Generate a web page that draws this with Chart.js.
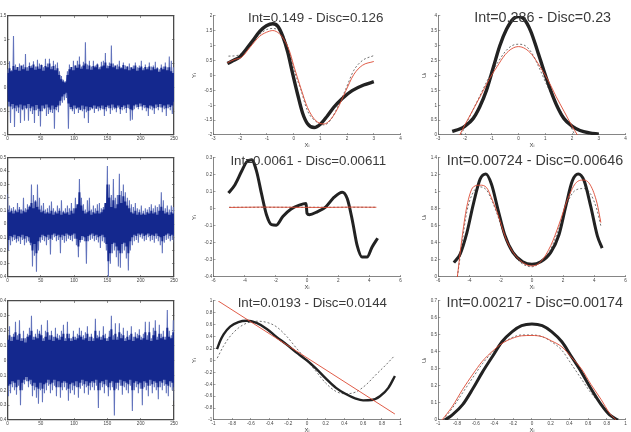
<!DOCTYPE html>
<html>
<head>
<meta charset="utf-8">
<title>Kernel fits</title>
<script src="https://cdn.jsdelivr.net/npm/chart.js@4"></script>
<style>
  html, body { margin: 0; padding: 0; background: #fff; }
  body { position: relative; width: 631px; height: 432px; overflow: hidden; font-family: "Liberation Sans", Arial, sans-serif; }
  canvas { position: absolute; }
  .panelTitle { position: absolute; transform: translate(-50%, -50%); white-space: nowrap; color: #3a3a3a; }
</style>
</head>
<body>
<script>
// Residual traces, left column: outer spikes and dense core, one pair of values every 3 samples
const noiseTicksX = [0, 50, 100, 150, 200, 250];

const spikeUpA = [.38,.55,.36,1.08,.48,.42,.5,.4,.48,.7,.42,.52,.46,.55,.44,.58,.5,.48,.42,.6,.5,.6,.44,.56,.48,.52,.34,.24,.16,.13,.34,.48,.42,.56,.46,.56,.65,.44,.54,.95,.48,.56,.44,.56,.46,.5,.42,.54,.56,.72,.46,.52,.88,.5,.44,.48,.56,.42,.52,.46,.44,.5,.4,.46,.52,.42,.46,.56,.4,.48,.42,.52,.44,.46,.54,.42,.38,.48,.44,.52,.42,.65,.56,.42];
const spikeDownA = [-.4,-.75,-.46,-.83,-.5,-.54,-.75,-.48,-.7,-.46,-.7,-.5,-.56,-.75,-.48,-.6,-.82,-.5,-.46,-.6,-.56,-.52,-.54,-.87,-.48,-.52,-.38,-.32,-.27,-.22,-.87,-.46,-.5,-.56,-.46,-.54,-.48,-.5,-.65,-.52,-.75,-.48,-.46,-.54,-.44,-.5,-.48,-.46,-.6,-.5,-.44,-.56,-.48,-.46,-.52,-.42,-.56,-.48,-.46,-.54,-.44,-.7,-.68,-.46,-.42,-.46,-.4,-.48,-.44,-.5,-.6,-.46,-.48,-.56,-.44,-.48,-.42,-.52,-.46,-.6,-.44,-.48,-.56,-.44];
const coreUpA = [
  .3,.4,.34,.45,.37,.43,.35,.46,.38,.42,.35,.45,.41,.48,.37,.44,.39,.47,.35,.45,.42,
  .5,.38,.45,.36,.4,.26,.17,.12,.1,.26,.38,.43,.36,.46,.41,.48,.39,.46,.5,.38,.46,
  .37,.45,.42,.48,.38,.44,.46,.52,.4,.45,.5,.42,.46,.38,.44,.4,.47,.38,.44,.36,.42,
  .39,.46,.35,.41,.44,.36,.43,.38,.44,.36,.42,.38,.4,.33,.41,.38,.44,.36,.42,.34,.3];
const coreDownA = [
  -.3,-.4,-.35,-.44,-.38,-.42,-.36,-.46,-.38,-.43,-.35,-.44,-.4,-.48,-.37,-.45,-.5,-.38,-.44,-.36,-.42,
  -.47,-.38,-.46,-.41,-.38,-.28,-.19,-.14,-.11,-.34,-.41,-.46,-.38,-.44,-.42,-.47,-.38,-.46,-.4,-.49,-.41,
  -.44,-.38,-.45,-.4,-.44,-.38,-.46,-.41,-.38,-.44,-.36,-.42,-.44,-.38,-.46,-.41,-.38,-.43,-.36,-.46,-.48,
  -.38,-.36,-.41,-.34,-.4,-.37,-.42,-.44,-.38,-.4,-.44,-.36,-.41,-.35,-.42,-.38,-.44,-.36,-.41,-.38,-.3];

const spikeUpB = [.23,.14,.12,.13,.11,.16,.13,.11,.2,.12,.15,.14,.3,.22,.18,.3,.2,.14,.16,.11,.12,.14,.17,.12,.1,.14,.12,.18,.1,.12,.14,.12,.16,.12,.2,.14,.34,.2,.15,.11,.18,.2,.11,.14,.12,.15,.16,.12,.13,.14,.44,.3,.22,.34,.2,.22,.38,.25,.3,.24,.2,.18,.15,.13,.16,.12,.11,.14,.1,.12,.11,.13,.15,.12,.14,.13,.15,.24,.18,.12,.14,.11,.14,.13];
const spikeDownB = [-.2,-.16,-.13,-.12,-.14,-.13,-.15,-.12,-.16,-.14,-.13,-.16,-.32,-.24,-.36,-.2,-.14,-.12,-.13,-.16,-.12,-.23,-.12,-.1,-.13,-.12,-.22,-.12,-.14,-.13,-.11,-.12,-.13,-.11,-.16,-.25,-.14,-.12,-.13,-.3,-.13,-.12,-.11,-.13,-.12,-.14,-.18,-.13,-.14,-.2,-.4,-.3,-.22,-.2,-.25,-.32,-.33,-.22,-.2,-.26,-.35,-.2,-.16,-.13,-.12,-.14,-.1,-.11,-.13,-.12,-.1,-.13,-.12,-.14,-.11,-.13,-.16,-.22,-.14,-.12,-.11,-.13,-.12,-.14];
const coreUpB = [
  .11,.09,.1,.08,.1,.09,.11,.08,.1,.09,.11,.13,.16,.12,.17,.13,.11,.09,.1,.08,.09,
  .08,.1,.07,.09,.08,.1,.07,.09,.08,.09,.07,.1,.08,.12,.15,.24,.14,.1,.08,.09,.1,
  .07,.09,.08,.1,.08,.09,.11,.16,.3,.2,.13,.18,.12,.15,.22,.16,.21,.17,.14,.12,.09,
  .08,.1,.07,.09,.07,.08,.07,.09,.08,.1,.08,.09,.07,.1,.13,.1,.08,.09,.07,.09,.08];
const coreDownB = [
  -.12,-.09,-.1,-.08,-.11,-.09,-.1,-.08,-.11,-.09,-.1,-.14,-.2,-.15,-.22,-.13,-.1,-.08,-.09,-.1,-.08,
  -.11,-.08,-.07,-.09,-.08,-.1,-.08,-.09,-.07,-.08,-.09,-.08,-.07,-.11,-.17,-.12,-.09,-.1,-.13,-.09,-.08,
  -.07,-.09,-.08,-.1,-.09,-.08,-.1,-.15,-.28,-.22,-.15,-.14,-.17,-.2,-.22,-.15,-.14,-.17,-.22,-.13,-.1,
  -.08,-.09,-.07,-.08,-.07,-.09,-.08,-.07,-.09,-.08,-.09,-.07,-.09,-.1,-.13,-.09,-.08,-.07,-.09,-.08,-.09];

const spikeUpC = [.14,.23,.16,.18,.26,.17,.27,.15,.2,.15,.18,.22,.3,.16,.18,.21,.2,.24,.15,.2,.27,.17,.2,.16,.22,.18,.17,.2,.24,.15,.26,.18,.15,.2,.16,.18,.22,.2,.17,.19,.23,.16,.18,.15,.28,.17,.2,.16,.23,.18,.15,.2,.3,.17,.25,.16,.25,.18,.22,.15,.2,.17,.23,.16,.19,.18,.21,.16,.18,.26,.17,.26,.15,.22,.27,.16,.24,.18,.2,.16,.34,.2,.17,.27];
const spikeDownC = [-.24,-.22,-.18,-.2,-.23,-.17,-.3,-.2,-.16,-.14,-.18,-.16,-.24,-.2,-.25,-.29,-.2,-.28,-.22,-.2,-.17,-.22,-.2,-.17,-.24,-.18,-.25,-.2,-.18,-.2,-.27,-.22,-.2,-.23,-.18,-.25,-.19,-.17,-.22,-.18,-.23,-.2,-.18,-.2,-.17,-.32,-.2,-.18,-.22,-.17,-.24,-.2,-.18,-.37,-.19,-.2,-.17,-.23,-.18,-.2,-.22,-.17,-.34,-.2,-.18,-.22,-.19,-.3,-.18,-.2,-.24,-.17,-.22,-.18,-.2,-.26,-.18,-.2,-.17,-.22,-.24,-.18,-.2,-.27];
const coreUpC = [
  .14,.17,.13,.16,.19,.14,.18,.13,.15,.12,.16,.17,.2,.14,.16,.15,.18,.17,.13,.16,.19,
  .14,.17,.13,.16,.15,.14,.16,.18,.13,.18,.15,.13,.16,.14,.15,.17,.16,.14,.15,.18,.13,
  .16,.13,.2,.15,.16,.14,.17,.15,.13,.16,.21,.14,.18,.14,.19,.15,.17,.13,.16,.14,.18,
  .13,.16,.15,.17,.14,.15,.19,.14,.19,.13,.17,.2,.14,.18,.15,.16,.14,.22,.16,.15,.19];
const coreDownC = [
  -.17,-.16,-.14,-.15,-.18,-.13,-.2,-.15,-.13,-.11,-.14,-.13,-.17,-.15,-.18,-.19,-.15,-.19,-.16,-.15,-.13,
  -.16,-.15,-.13,-.18,-.14,-.18,-.15,-.14,-.15,-.19,-.16,-.15,-.17,-.14,-.18,-.15,-.13,-.16,-.14,-.17,-.15,
  -.14,-.15,-.13,-.2,-.15,-.14,-.16,-.13,-.18,-.15,-.14,-.2,-.15,-.15,-.13,-.17,-.14,-.15,-.16,-.13,-.2,
  -.15,-.14,-.16,-.15,-.19,-.14,-.15,-.17,-.13,-.16,-.14,-.15,-.18,-.14,-.15,-.13,-.16,-.17,-.14,-.15,-.18];

// Fitted curves: thick = true function, dashed = discrete estimate, red = integral estimate
const fitAx = [-2.48,-2.26,-2,-1.77,-1.52,-1.27,-1.02,-.78,-.59,-.41,-.22,-.04,.15,.33,.52,.77,1.01,1.26,1.51,1.81,2.19,2.62,3];
const fitAy = [.4,.5,.64,.89,1.18,1.48,1.67,1.74,1.65,1.32,.78,.07,-.64,-1.25,-1.62,-1.75,-1.63,-1.36,-1.06,-.78,-.51,-.32,-.21];
const discAx = [-2.44,-2.12,-1.89,-1.52,-1.27,-1.02,-.78,-.53,-.35,-.16,.02,.27,.52,.83,1.14,1.38,1.63,1.94,2.25,2.57,3];
const discAy = [.65,.67,.78,1.13,1.38,1.54,1.58,1.5,1.27,.78,.17,-.48,-1.19,-1.54,-1.66,-1.5,-1.09,-.48,.17,.5,.67];
const intAx = [-2.48,-2.2,-1.95,-1.64,-1.27,-1.02,-.78,-.53,-.35,-.16,.02,.27,.52,.83,1.14,1.38,1.63,1.94,2.25,2.57,3];
const intAy = [.43,.54,.61,.94,1.32,1.45,1.51,1.4,1.19,.83,.28,-.43,-1.08,-1.52,-1.63,-1.48,-1.14,-.54,.03,.34,.47];

const fitBx = [-2.48,-2.2,-2,-1.7,-1.45,-1.2,-.95,-.7,-.45,-.2,0,.2,.45,.7,.95,1.2,1.45,1.7,2,2.3,2.65,3];
const fitBy = [.12,.2,.3,.55,.95,1.5,2.25,3,3.55,3.9,3.98,3.9,3.5,2.85,2.15,1.5,.95,.55,.3,.15,.07,.03];
const discBx = [-2.15,-2,-1.7,-1.4,-1.1,-.8,-.5,-.25,0,.25,.5,.8,1.1,1.4,1.7,2,2.1];
const discBy = [0,.3,.85,1.4,1.95,2.4,2.8,3,3.05,3,2.75,2.2,1.6,1.1,.6,.2,0];
const intBx = [-2.2,-2,-1.7,-1.4,-1.1,-.8,-.5,-.25,0,.25,.5,.8,1.1,1.4,1.7,2,2.2];
const intBy = [0,.35,.85,1.35,1.87,2.3,2.7,2.9,2.97,2.9,2.7,2.3,1.85,1.3,.8,.3,0];

const fitCx = [-5.04,-4.62,-4.19,-3.87,-3.56,-3.24,-2.92,-2.6,-2.28,-1.97,-1.55,-1.02,-.49,-.06,0,.15,.68,1.21,1.74,2.26,2.58,2.9,3.22,3.53,3.85,4.17,4.53];
const fitCy = [.094,.143,.223,.277,.29,.223,.09,-.034,-.092,-.095,-.044,0,.023,.032,-.025,-.034,-.015,.013,.069,.099,.061,-.063,-.216,-.283,-.283,-.225,-.172];
const discCx = [-5,-3,-1,1,3,4.45];
const discCy = [.01,.01,.01,.01,.01,.01];
const intCx = [-5,-3,-1,1,3,4.45];
const intCy = [.009,.011,.01,.009,.011,.01];

const fitDx = [-5,-4.6,-4.17,-3.75,-3.32,-2.95,-2.59,-2.17,-1.75,-1.22,-.59,0,.57,1.21,1.74,2.17,2.59,2.97,3.35,3.77,4.2,4.5];
const fitDy = [.17,.27,.52,.86,1.15,1.21,1.09,.79,.5,.29,.18,.15,.18,.29,.5,.83,1.13,1.21,1.13,.83,.48,.34];
const discDx = [-4.78,-4.5,-4.17,-3.75,-3.32,-2.9,-2.59,-2.17,-1.64,-1,0,.57,1.21,1.74,2.26,2.79,3.32,3.75,4.17,4.42];
const discDy = [0,.37,.77,1,1.06,1.02,.91,.71,.43,.22,.12,.18,.33,.58,.87,1.02,1.04,.98,.79,.6];
const intDx = [-4.78,-4.5,-4.17,-3.75,-3.32,-2.9,-2.59,-2.17,-1.64,-1,0,.57,1.21,1.74,2.26,2.79,3.32,3.75,4.17,4.42];
const intDy = [0,.43,.83,1.06,1.08,1.05,.93,.73,.44,.24,.13,.18,.37,.62,.9,1.1,1.14,1.08,.87,.64];

const fitEx = [-.963,-.928,-.892,-.822,-.734,-.645,-.54,-.43,-.33,-.22,-.12,0,.1,.2,.31,.41,.52,.6,.69,.78,.87,.94];
const fitEy = [.19,.33,.44,.57,.645,.667,.63,.53,.4,.27,.14,0,-.14,-.3,-.46,-.56,-.64,-.67,-.665,-.6,-.46,-.26];
const discEx = [-.96,-.89,-.82,-.73,-.64,-.54,-.43,-.33,-.22,-.12,0,.1,.2,.31,.41,.52,.63,.73,.84,.93];
const discEy = [.04,.25,.41,.55,.63,.66,.64,.57,.41,.22,0,-.19,-.38,-.52,-.56,-.53,-.41,-.25,-.08,.07];
const intEx = [-.95,.94];
const intEy = [1,-.9];

const fitFx = [-.93,-.85,-.74,-.63,-.53,-.42,-.32,-.21,-.11,0,.11,.21,.32,.42,.53,.63,.74,.83,.92];
const fitFy = [0,.03,.09,.185,.28,.375,.46,.52,.555,.565,.555,.52,.46,.375,.28,.185,.09,.03,0];
const discFx = [-.95,-.85,-.74,-.63,-.53,-.42,-.32,-.21,-.11,0,.11,.21,.32,.42,.53,.63,.74,.83,.88];
const discFy = [0,.07,.16,.25,.33,.4,.45,.485,.5,.5,.49,.46,.41,.33,.24,.16,.09,.03,0];
const intFx = [-.96,-.85,-.74,-.63,-.53,-.42,-.32,-.21,-.11,0,.11,.21,.32,.42,.53,.63,.74,.83,.9];
const intFy = [0,.08,.18,.27,.345,.405,.45,.48,.495,.497,.49,.465,.43,.37,.3,.21,.12,.04,0];

const titles = [
  'Int=0.149 - Disc=0.126', 'Int=0.286 - Disc=0.23',
  'Int=0.0061 - Disc=0.00611', 'Int=0.00724 - Disc=0.00646',
  'Int=0.0193 - Disc=0.0144', 'Int=0.00217 - Disc=0.00174'
];

const FONT = { family: '"Liberation Sans", Arial, sans-serif', size: 4.6 };
const TICK_COLOR = '#444';

// keeps the plot area at an exact pixel box inside its canvas
function fixedAxis(size, horizontal) {
  return function (scale) {
    if (horizontal) scale.height = size; else scale.width = size;
  };
}

function fmt(v) {
  return String(+v.toFixed(2));
}

function setTicks(list) {
  return function (scale) { scale.ticks = list.map(value => ({ value })); };
}

function xyPoints(xs, ys) {
  return xs.map((x, i) => ({ x: x, y: ys[i] }));
}

// the dense blue trace is a zig-zag between upper and lower values
function zigzag(up, down) {
  const pts = [];
  up.forEach((v, i) => {
    pts.push({ x: i * 3, y: v });
    pts.push({ x: i * 3 + 1.5, y: down[i] });
  });
  return pts;
}

function makeChart(box, left, extraBelow, datasets, xRange, yRange, xTicks, yTicks, opts) {
  const topPad = 3, rightPad = 3;
  const canvas = document.createElement('canvas');
  const cw = box.r - left + rightPad;
  const ch = box.b - box.t + topPad + extraBelow;
  canvas.width = Math.round(cw);
  canvas.height = Math.round(ch);
  canvas.style.left = left + 'px';
  canvas.style.top = (box.t - topPad) + 'px';
  document.body.appendChild(canvas);

  const lineColor = opts.framed ? '#4a4a4a' : '#666';
  const lineW = opts.framed ? 1.3 : 0.8;
  const scales = {
    x: {
      type: 'linear', min: xRange[0], max: xRange[1],
      afterBuildTicks: setTicks(xTicks),
      afterFit: fixedAxis(extraBelow, true),
      grid: { drawOnChartArea: false, tickLength: -2, color: lineColor, lineWidth: 0.6 },
      border: { color: lineColor, width: lineW },
      ticks: { padding: 3.2, font: FONT, color: TICK_COLOR, maxRotation: 0, autoSkip: false, callback: fmt },
      title: { display: !!opts.xName, text: opts.xName, font: { family: FONT.family, size: 6 }, color: TICK_COLOR, padding: { top: 0, bottom: 0 } }
    },
    y: {
      type: 'linear', min: yRange[0], max: yRange[1],
      afterBuildTicks: setTicks(yTicks),
      afterFit: fixedAxis(box.l - left, false),
      grid: { drawOnChartArea: false, tickLength: -2, color: lineColor, lineWidth: 0.6 },
      border: { color: lineColor, width: lineW },
      ticks: { padding: 3.2, font: FONT, color: TICK_COLOR, autoSkip: false, callback: fmt },
      title: { display: !!opts.yName, text: opts.yName, font: { family: FONT.family, size: 6 }, color: TICK_COLOR, padding: { top: 1, bottom: 0 } }
    }
  };
  if (opts.framed) {
    // top and right edges of the box, with their inner tick marks
    scales.xTop = {
      type: 'linear', position: 'top', min: xRange[0], max: xRange[1],
      afterBuildTicks: setTicks(xTicks), afterFit: fixedAxis(0, true),
      grid: { drawOnChartArea: false, tickLength: -2, color: lineColor, lineWidth: 0.6 },
      border: { color: lineColor, width: lineW },
      ticks: { display: false }
    };
    scales.yRight = {
      type: 'linear', position: 'right', min: yRange[0], max: yRange[1],
      afterBuildTicks: setTicks(yTicks), afterFit: fixedAxis(0, false),
      grid: { drawOnChartArea: false, tickLength: -2, color: lineColor, lineWidth: 0.6 },
      border: { color: lineColor, width: lineW },
      ticks: { display: false }
    };
  }
  return new Chart(canvas, {
    type: 'line',
    data: { datasets: datasets },
    options: {
      responsive: false,
      animation: false,
      layout: { padding: { top: topPad, right: rightPad, left: 0, bottom: 0 } },
      plugins: { legend: { display: false }, tooltip: { enabled: false } },
      elements: { point: { radius: 0 } },
      scales: scales
    }
  });
}

function noisePanel(box, up, down, coreUp, coreDown, yRange, yTicks) {
  const datasets = [
    { data: zigzag(coreUp, coreDown), borderColor: '#14288e', borderWidth: 1.9, borderJoinStyle: 'bevel', order: 1 },
    { data: zigzag(up, down), borderColor: '#6273bc', borderWidth: 1.1, borderJoinStyle: 'bevel', order: 2 }
  ];
  makeChart(box, 0, 14, datasets, [0, 250], yRange, noiseTicksX, yTicks, { framed: true });
}

function curvePanel(box, left, series, xRange, yRange, xTicks, yTicks, yName, thick) {
  const datasets = [
    { data: xyPoints(series[0], series[1]), borderColor: '#222', borderWidth: thick, cubicInterpolationMode: 'monotone', order: 1 },
    { data: xyPoints(series[2], series[3]), borderColor: '#333', borderWidth: 0.7, borderDash: [2, 2], cubicInterpolationMode: 'monotone', order: 2 },
    { data: xyPoints(series[4], series[5]), borderColor: '#dc4a33', borderWidth: 0.9, cubicInterpolationMode: 'monotone', order: 0 }
  ];
  makeChart(box, left, 14, datasets, xRange, yRange, xTicks, yTicks, { framed: false, xName: 'X\u1d62', yName: yName });
}

const col1 = [7.5, 178.3], col2 = [213.5, 402.3], col3 = [438.3, 627.3];
const row1 = [12.7, 134.7], row2 = [155, 277.3], row3 = [297.7, 420];
const boxOf = (c, r) => ({ l: c[0], r: c[1], t: r[0], b: r[1] });

noisePanel(boxOf(col1, row1), spikeUpA, spikeDownA, coreUpA, coreDownA, [-1, 1.5], [-1, -.5, 0, .5, 1, 1.5]);
noisePanel(boxOf(col1, row2), spikeUpB, spikeDownB, coreUpB, coreDownB, [-.4, .5], [-.4, -.3, -.2, -.1, 0, .1, .2, .3, .4, .5]);
noisePanel(boxOf(col1, row3), spikeUpC, spikeDownC, coreUpC, coreDownC, [-.4, .4], [-.4, -.3, -.2, -.1, 0, .1, .2, .3, .4]);

const ticksWide = [-3, -2, -1, 0, 1, 2, 3, 4];
const ticksSix = [-6, -4, -2, 0, 2, 4, 6];
const ticksUnit = [-1, -.8, -.6, -.4, -.2, 0, .2, .4, .6, .8, 1];

curvePanel(boxOf(col2, row1), 190, [fitAx, fitAy, discAx, discAy, intAx, intAy], [-3, 4], [-2, 2], ticksWide, [-2, -1.5, -1, -.5, 0, .5, 1, 1.5, 2], 'Y\u1d62', 3.4);
curvePanel(boxOf(col3, row1), 420, [fitBx, fitBy, discBx, discBy, intBx, intBy], [-3, 4], [0, 4], ticksWide, [0, .5, 1, 1.5, 2, 2.5, 3, 3.5, 4], 'U\u1d62', 3.4);
curvePanel(boxOf(col2, row2), 190, [fitCx, fitCy, discCx, discCy, intCx, intCy], [-6, 6], [-.4, .3], ticksSix, [-.4, -.3, -.2, -.1, 0, .1, .2, .3], 'Y\u1d62', 3);
curvePanel(boxOf(col3, row2), 420, [fitDx, fitDy, discDx, discDy, intDx, intDy], [-6, 6], [0, 1.4], ticksSix, [0, .2, .4, .6, .8, 1, 1.2, 1.4], 'U\u1d62', 3);
curvePanel(boxOf(col2, row3), 190, [fitEx, fitEy, discEx, discEy, intEx, intEy], [-1, 1], [-1, 1], ticksUnit, [-1, -.8, -.6, -.4, -.2, 0, .2, .4, .6, .8, 1], 'Y\u1d62', 2.4);
curvePanel(boxOf(col3, row3), 420, [fitFx, fitFy, discFx, discFy, intFx, intFy], [-1, 1], [0, .7], ticksUnit, [0, .1, .2, .3, .4, .5, .6, .7], 'U\u1d62', 3);

// headings sit over the curves, so they are placed by hand above the canvases
const titleSpots = [[315.7, 17, 13.4], [542.7, 17, 14.3], [308.3, 160, 13.3], [535, 160, 14.3], [312.3, 302.3, 13.3], [534.7, 302, 14.3]];
titles.forEach((t, i) => {
  const el = document.createElement('div');
  el.className = 'panelTitle';
  el.textContent = t;
  el.style.left = titleSpots[i][0] + 'px';
  el.style.top = titleSpots[i][1] + 'px';
  el.style.fontSize = titleSpots[i][2] + 'px';
  document.body.appendChild(el);
});
</script>
</body>
</html>
